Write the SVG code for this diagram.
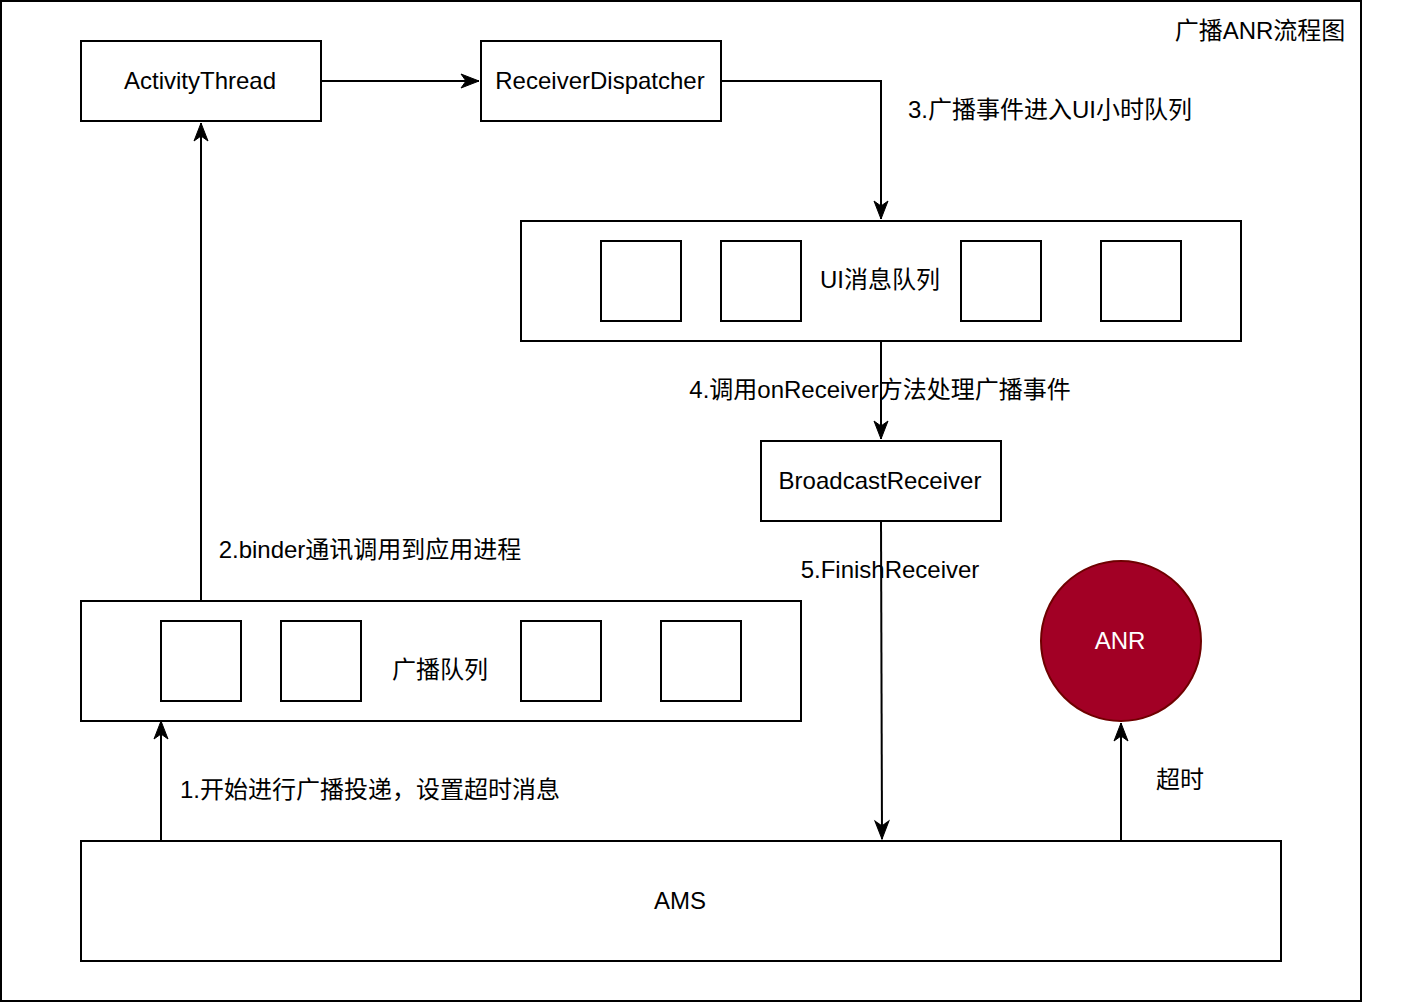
<svg xmlns="http://www.w3.org/2000/svg" width="1402" height="1002" viewBox="0 0 1402 1002">
<style>
.box{fill:#fff;stroke:#000;stroke-width:2}
.sq{fill:#fff;stroke:#000;stroke-width:2}
.ln{fill:none;stroke:#000;stroke-width:2}
text{font-family:"Liberation Sans","Noto Sans CJK SC",Arial,sans-serif;font-size:24px;fill:#000}
.c{text-anchor:middle;dominant-baseline:central}
</style>
<defs>
<marker id="arr" markerUnits="userSpaceOnUse" markerWidth="24" markerHeight="20" viewBox="-20 -10 24 20" refX="0" refY="0" orient="auto">
<path d="M0,0 L-18,-7 L-13,0 L-18,7 Z" fill="#000" stroke="#000" stroke-width="1"/>
</marker>
</defs>
<rect x="0" y="0" width="1402" height="1002" fill="#fff"/>
<rect id="frame" x="1" y="1" width="1360" height="1000" fill="none" stroke="#000" stroke-width="2"/>
<text id="title" class="c" x="1260" y="30">广播ANR流程图</text>

<g id="connectors">
<path class="ln" d="M321,81 H479" marker-end="url(#arr)"/>
<path class="ln" d="M721,81 H881 V219" marker-end="url(#arr)"/>
<path class="ln" d="M881,341 V439" marker-end="url(#arr)"/>
<path class="ln" d="M881,521 L882,839" marker-end="url(#arr)"/>
<path class="ln" d="M1121,841 V723" marker-end="url(#arr)"/>
<path class="ln" d="M201,601 V123" marker-end="url(#arr)"/>
<path class="ln" d="M161,841 V721" marker-end="url(#arr)"/>
<text class="c" x="1050" y="109">3.广播事件进入UI小时队列</text>
<text class="c" x="880" y="389">4.调用onReceiver方法处理广播事件</text>
<text class="c" x="890" y="569">5.FinishReceiver</text>
<text class="c" x="1180" y="779">超时</text>
<text class="c" x="370" y="549">2.binder通讯调用到应用进程</text>
<text class="c" x="370" y="789">1.开始进行广播投递，设置超时消息</text>
</g>

<g id="activityThread">
<rect class="box" x="81" y="41" width="240" height="80"/>
<text class="c" x="200" y="80">ActivityThread</text>
</g>
<g id="receiverDispatcher">
<rect class="box" x="481" y="41" width="240" height="80"/>
<text class="c" x="600" y="80">ReceiverDispatcher</text>
</g>
<g id="uiQueue">
<rect class="box" x="521" y="221" width="720" height="120"/>
<rect class="sq" x="601" y="241" width="80" height="80"/>
<rect class="sq" x="721" y="241" width="80" height="80"/>
<rect class="sq" x="961" y="241" width="80" height="80"/>
<rect class="sq" x="1101" y="241" width="80" height="80"/>
<text class="c" x="880" y="279">UI消息队列</text>
</g>
<g id="broadcastReceiver">
<rect class="box" x="761" y="441" width="240" height="80"/>
<text class="c" x="880" y="480">BroadcastReceiver</text>
</g>
<g id="anr">
<circle cx="1121" cy="641" r="80" fill="#a20025" stroke="#6f0000" stroke-width="2"/>
<text class="c" x="1120" y="640" style="fill:#fff">ANR</text>
</g>
<g id="broadcastQueue">
<rect class="box" x="81" y="601" width="720" height="120"/>
<rect class="sq" x="161" y="621" width="80" height="80"/>
<rect class="sq" x="281" y="621" width="80" height="80"/>
<rect class="sq" x="521" y="621" width="80" height="80"/>
<rect class="sq" x="661" y="621" width="80" height="80"/>
<text class="c" x="440" y="669">广播队列</text>
</g>
<g id="ams">
<rect class="box" x="81" y="841" width="1200" height="120"/>
<text class="c" x="680" y="900">AMS</text>
</g>
</svg>
